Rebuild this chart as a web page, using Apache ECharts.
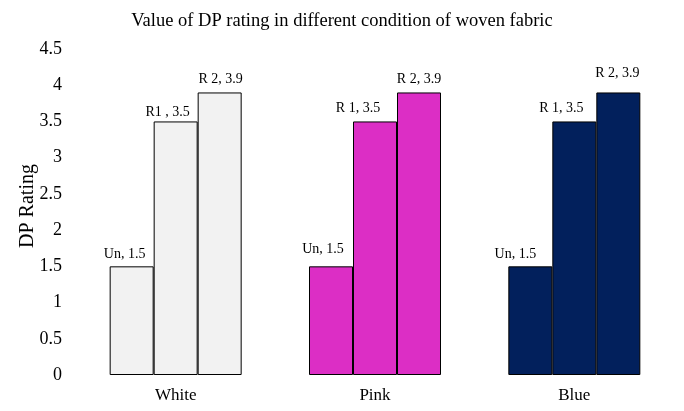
<!DOCTYPE html>
<html><head><meta charset="utf-8">
<script src="https://cdn.jsdelivr.net/npm/echarts@6/dist/echarts.min.js"></script>
<style>html,body{margin:0;padding:0;background:#fff}#c{width:684px;height:411px}</style>
</head><body><div id="c"></div>
<script>
const categories = ['White', 'Pink', 'Blue'];
const seriesNames = ['Un', 'R1', 'R2'];
const unValues = [1.5, 1.5, 1.5];
const r1Values = [3.5, 3.5, 3.5];
const r2Values = [3.9, 3.9, 3.9];
const unLabels = ['Un, 1.5', 'Un, 1.5', 'Un, 1.5'];
const r1Labels = ['R1 , 3.5', 'R 1, 3.5', 'R 1, 3.5'];
const r2Labels = ['R 2, 3.9', 'R 2, 3.9', 'R 2, 3.9'];
const yTicks = [0, 0.5, 1, 1.5, 2, 2.5, 3, 3.5, 4, 4.5];

const catColors = ['#f2f2f2', '#dc2ec5', '#02205c'];
const labelOffsets = [
  [[-7, 0], [-8, -5], [-15, 0]],
  [[-8, 3], [-17, -1], [-13, -1]],
  [[1, -1], [0, -1], [-1, -7]]
];
const FONT = '"Liberation Serif", "Times New Roman", serif';
const valuesBySeries = [unValues, r1Values, r2Values];
const labelsBySeries = [unLabels, r1Labels, r2Labels];

const series = seriesNames.map((name, si) => ({
  name: name,
  type: 'bar',
  barWidth: 44,
  barGap: '0%',
  data: valuesBySeries[si].map((v, ci) => ({
    value: v,
    itemStyle: { color: catColors[ci], borderColor: '#000', borderWidth: 1 },
    label: {
      show: true, position: 'top', distance: 5,
      offset: labelOffsets[si][ci],
      formatter: labelsBySeries[si][ci],
      fontFamily: FONT, fontSize: 14, color: '#000'
    }
  }))
}));

const chart = echarts.init(document.getElementById('c'), null, { renderer: 'canvas' });
chart.setOption({
  animation: false,
  backgroundColor: '#fff',
  title: {
    text: 'Value of DP rating in different condition of woven fabric',
    left: 'center', top: 7,
    textStyle: { fontFamily: FONT, fontSize: 18.5, fontWeight: 'normal', color: '#000' }
  },
  grid: { left: 76, right: 10, top: 49, bottom: 36, containLabel: false },
  xAxis: {
    type: 'category', data: categories,
    axisLine: { show: false }, axisTick: { show: false },
    axisLabel: { fontFamily: FONT, fontSize: 17, color: '#000', margin: 12 }
  },
  yAxis: {
    type: 'value', min: yTicks[0], max: yTicks[yTicks.length - 1], interval: 0.5,
    name: 'DP Rating', nameLocation: 'middle', nameGap: 38, nameRotate: 90,
    nameMoveOverlap: false,
    nameTextStyle: { fontFamily: FONT, fontSize: 20, color: '#000', padding: [0, 0, 0, 12] },
    axisLine: { show: false }, axisTick: { show: false }, splitLine: { show: false },
    axisLabel: { fontFamily: FONT, fontSize: 18, color: '#000', margin: 14 }
  },
  series: series
});
</script></body></html>
